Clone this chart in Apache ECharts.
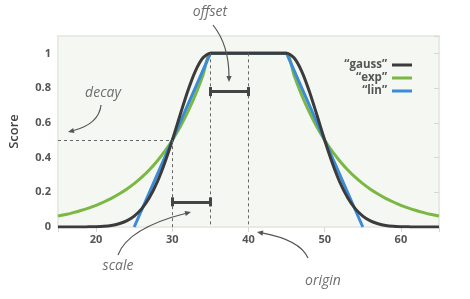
<!DOCTYPE html>
<html>
<head>
<meta charset="utf-8">
<script src="https://cdn.jsdelivr.net/npm/echarts@6/dist/echarts.min.js"></script>
<style>
html,body{margin:0;padding:0;background:#fff;}
#c{width:470px;height:299px;}
</style>
</head>
<body>
<div id="c"></div>
<script>
// ---- data ----
var xValues = [15,16,17,18,19,20,21,22,23,24,25,26,27,28,29,30,31,32,33,34,35,
  36,37,38,39,40,41,42,43,44,
  45,46,47,48,49,50,51,52,53,54,55,56,57,58,59,60,61,62,63,64,65];
var gaussValues = [0,0,0,0,0.001,0.002,0.004,0.009,0.019,0.035,0.063,0.106,0.170,0.257,0.369,0.5,0.642,0.779,0.895,0.973,1,
  1,1,1,1,1,1,1,1,1,
  1,0.973,0.895,0.779,0.642,0.5,0.369,0.257,0.170,0.106,0.063,0.035,0.019,0.009,0.004,0.002,0.001,0,0,0,0];
var expValues = [0.063,0.072,0.083,0.095,0.109,0.125,0.144,0.165,0.190,0.218,0.25,0.287,0.330,0.379,0.435,0.5,0.574,0.660,0.758,0.871,1,
  1,1,1,1,1,1,1,1,1,
  1,0.871,0.758,0.660,0.574,0.5,0.435,0.379,0.330,0.287,0.25,0.218,0.190,0.165,0.144,0.125,0.109,0.095,0.083,0.072,0.063];
var linX = [25,35,45,55];
var linValues = [0,1,1,0];
var seriesNames = ['\u201cgauss\u201d','\u201cexp\u201d','\u201clin\u201d'];
var yTicks = [0,0.2,0.4,0.6,0.8,1];
var xTicks = [20,30,40,50,60];
// annotation anchors (data coordinates)
var decayLevel = 0.5, originX = 40, offsetX = 35, scaleX = 30;
var offsetBracketY = 0.78, scaleBracketY = 0.145;

var COLORS = {gauss:'#3b3b3b', exp:'#7ab743', lin:'#3a8bd8'};
var FONT = '"Open Sans", "DejaVu Sans", sans-serif';

function zip(xs, ys){ var r=[]; for (var i=0;i<xs.length;i++){ r.push([xs[i], ys[i]]); } return r; }

var dash = {type:[3,3], color:'#666', width:1};
var bracket = {type:'solid', color:'#454545', width:3};
var capH = 0.026;
function seg(x1,y1,x2,y2,style){ return [{coord:[x1,y1], lineStyle:style},{coord:[x2,y2]}]; }

var markData = [
  seg(15, decayLevel, scaleX, decayLevel, dash),
  seg(scaleX, decayLevel, scaleX, 0, dash),
  seg(offsetX, 1, offsetX, 0, dash),
  seg(originX, 1, originX, 0, dash),
  seg(offsetX, offsetBracketY, originX, offsetBracketY, bracket),
  seg(offsetX, offsetBracketY-capH, offsetX, offsetBracketY+capH, bracket),
  seg(originX, offsetBracketY-capH, originX, offsetBracketY+capH, bracket),
  seg(scaleX, scaleBracketY, offsetX, scaleBracketY, bracket),
  seg(scaleX, scaleBracketY-capH, scaleX, scaleBracketY+capH, bracket),
  seg(offsetX, scaleBracketY-capH, offsetX, scaleBracketY+capH, bracket)
];

function arrow(p0, cp, p1){
  var dx = p1[0]-cp[0], dy = p1[1]-cp[1];
  var L = Math.sqrt(dx*dx+dy*dy); dx/=L; dy/=L;
  var hl = 6, hw = 2.6;
  var bx = p1[0]-dx*hl, by = p1[1]-dy*hl;
  return [
    {type:'bezierCurve', silent:true, z:100,
      shape:{x1:p0[0], y1:p0[1], cpx1:cp[0], cpy1:cp[1], x2:bx+dx*1, y2:by+dy*1},
      style:{stroke:'#555', lineWidth:1.2, fill:null}},
    {type:'polygon', silent:true, z:100,
      shape:{points:[[p1[0],p1[1]],[bx-dy*hw, by+dx*hw],[bx+dy*hw, by-dx*hw]]},
      style:{fill:'#555'}}
  ];
}
function label(text, x, y){
  return {type:'text', silent:true, z:100, x:x, y:y,
    style:{text:text, fill:'#6e6e6e', font:'italic 14px ' + FONT, align:'center', verticalAlign:'middle'}};
}

var graphics = [].concat(
  [label('offset', 210, 12), label('decay', 103, 93), label('scale', 118, 266), label('origin', 323, 281)],
  arrow([213,25],[229,45],[229,82]),
  arrow([101,105],[99,124],[68,132]),
  arrow([118,255],[128,228],[191,212]),
  arrow([308,258],[300,240],[257,232])
);

var chart = echarts.init(document.getElementById('c'), null, {renderer:'canvas'});
var tickLabel = {color:'#555', fontSize:11, fontWeight:'bold', fontFamily:FONT};
chart.setOption({
  animation:false,
  grid:{left:58, right:31, top:36, bottom:72, show:true, backgroundColor:'#f5f7f2', borderColor:'#e8eae5', borderWidth:2},
  legend:{
    data:seriesNames, orient:'vertical', align:'right', right:53, top:54,
    icon:'rect', itemWidth:20, itemHeight:3, itemGap:1,
    textStyle:{color:'#555', fontSize:11.5, fontWeight:'bold', fontFamily:FONT}
  },
  xAxis:[
    {type:'value', min:15, max:65, position:'bottom',
      axisLine:{show:false}, axisTick:{show:false}, splitLine:{show:false},
      axisLabel:Object.assign({margin:7, showMinLabel:false, showMaxLabel:false,
        formatter:function(v){ return xTicks.indexOf(v) >= 0 ? String(v) : ''; }}, tickLabel)},
    {type:'value', min:15, max:65, position:'top',
      axisLine:{show:false}, axisTick:{show:true, inside:true, length:5, lineStyle:{color:'#d6d8d3'}},
      axisLabel:{show:false}, splitLine:{show:false}}
  ],
  yAxis:[
    {type:'value', min:0, max:1.1, interval:0.2, position:'left',
      name:'Score', nameLocation:'middle', nameGap:37, nameRotate:90,
      nameTextStyle:{color:'#444', fontSize:13, fontWeight:600, fontFamily:FONT},
      axisLine:{show:false}, axisTick:{show:false}, splitLine:{show:false},
      axisLabel:Object.assign({margin:7, showMaxLabel:false,
        formatter:function(v){ return yTicks.indexOf(Math.round(v*10)/10) >= 0 ? String(Math.round(v*10)/10) : ''; }}, tickLabel)},
    {type:'value', min:0, max:1.1, interval:0.2, position:'right',
      axisLine:{show:false}, axisTick:{show:true, inside:true, length:5, lineStyle:{color:'#d6d8d3'}},
      axisLabel:{show:false}, splitLine:{show:false}}
  ],
  series:[
    {name:seriesNames[1], type:'line', data:zip(xValues, expValues), showSymbol:false, symbol:'none',
      color:COLORS.exp, lineStyle:{width:3, color:COLORS.exp}, smooth:0.25, z:2},
    {name:seriesNames[2], type:'line', data:zip(linX, linValues), showSymbol:false, symbol:'none',
      color:COLORS.lin, lineStyle:{width:3, color:COLORS.lin}, z:3},
    {name:seriesNames[0], type:'line', data:zip(xValues, gaussValues), showSymbol:false, symbol:'none',
      color:COLORS.gauss, lineStyle:{width:3, color:COLORS.gauss}, smooth:0.25, z:4},
    {name:'annotations', type:'line', data:[], silent:true, z:1,
      markLine:{silent:true, symbol:['none','none'], label:{show:false}, animation:false, data:markData}}
  ],
  graphic:graphics
});
</script>
</body>
</html>
